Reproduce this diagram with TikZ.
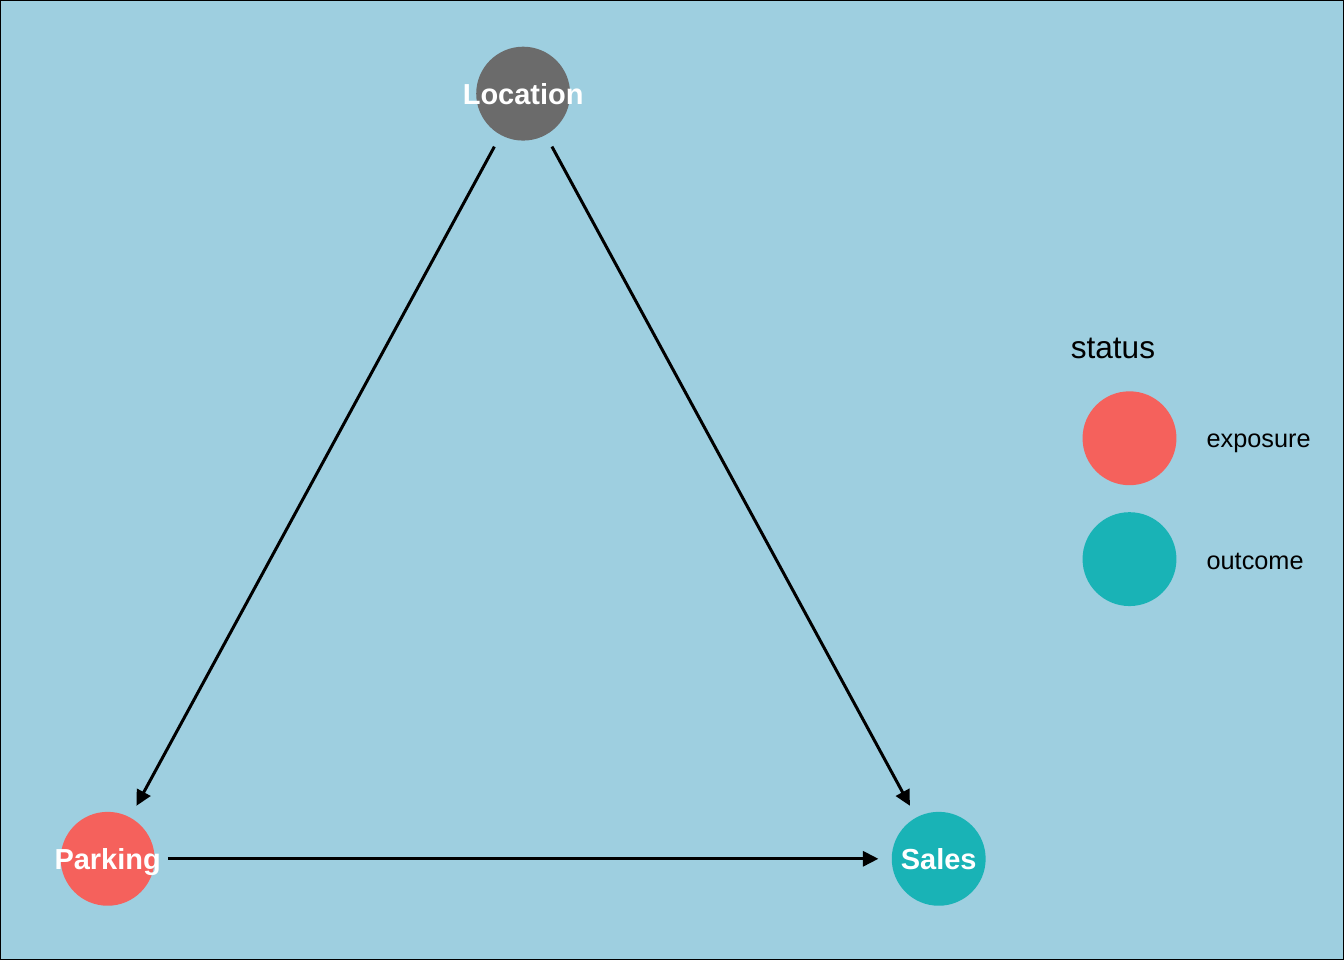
\documentclass[tikz,border=0pt]{standalone}
\usepackage{fontspec}
\setmainfont{Liberation Sans}
\usetikzlibrary{arrows.meta}

\definecolor{panelbg}{HTML}{9ECFE0}
\definecolor{exposurered}{HTML}{F5615C}
\definecolor{outcometeal}{HTML}{19B3B6}
\definecolor{latentgrey}{HTML}{6B6B6B}

\tikzset{
  dagnode/.style={circle, minimum size=18.8mm, inner sep=0pt,
    label={[text=white, text depth=0pt, font=\fontsize{16.5}{18}\selectfont\bfseries]center:#1}},
  keydot/.style={circle, minimum size=18.8mm, inner sep=0pt},
  keytext/.style={anchor=west, text depth=0pt, font=\fontsize{14.4}{16}\selectfont},
  dagedge/.style={line width=0.6mm, -{Triangle[length=3.1mm,width=3mm]},
    shorten <=2.6mm, shorten >=2.6mm}
}

\begin{document}
\begin{tikzpicture}[x=0.2mm,y=-0.2mm]
   % Panel
   \fill[panelbg] (0,0) rectangle (1344,960);
   \draw[line width=0.3mm] (0,0) rectangle (1344,960);
   \useasboundingbox (0,0) rectangle (1344,960);
   % Nodes
   \node[dagnode=Location, fill=latentgrey] (location) at (523,93) {};
   \node[dagnode=Parking, fill=exposurered] (parking) at (107,859) {};
   \node[dagnode=Sales, fill=outcometeal] (sales) at (939,859) {};
   % Edges
   \draw[dagedge] (location) -- (parking);
   \draw[dagedge] (location) -- (sales);
   \draw[dagedge] (parking) -- (sales);
   % Legend
   \node[anchor=west, font=\fontsize{18}{20}\selectfont] (status) at (1065,348) {status};
   \node[keydot, fill=exposurered] (expdot) at (1130,438) {};
   \node[keydot, fill=outcometeal] (outdot) at (1130,559) {};
   \node[keytext] (explabel) at (1201,440) {exposure};
   \node[keytext] (outlabel) at (1201,561) {outcome};
\end{tikzpicture}
\end{document}
